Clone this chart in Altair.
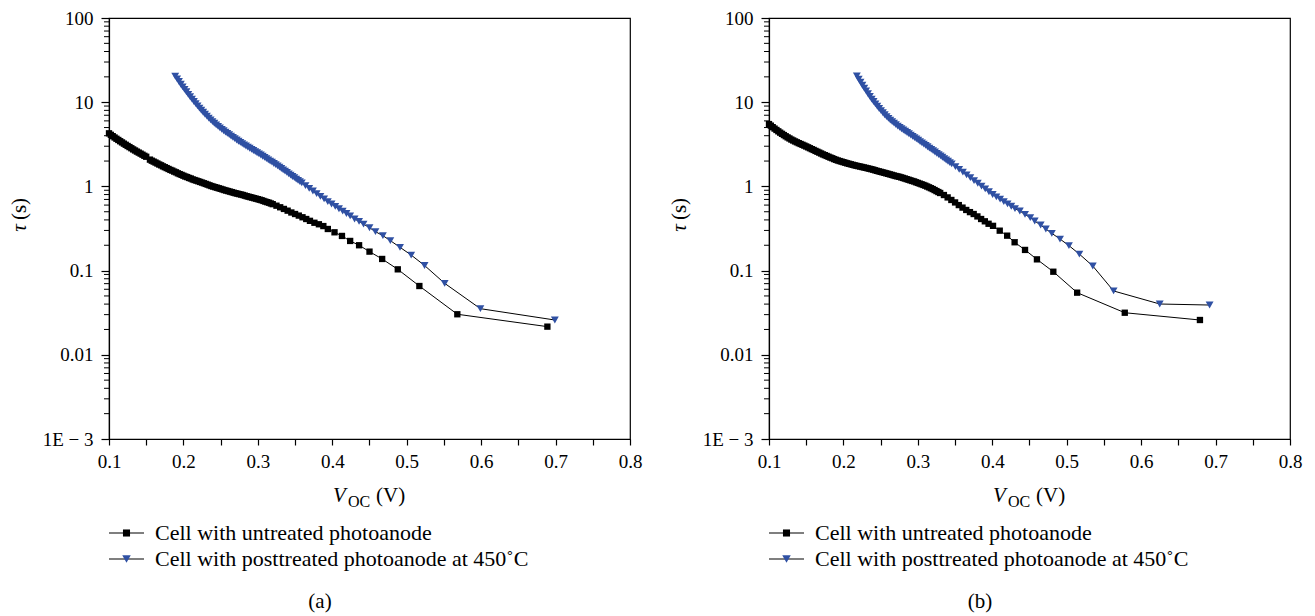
import altair as alt
import pandas as pd

SERIES = ["Cell with untreated photoanode", "Cell with posttreated photoanode at 450˚C"]
COLORS = ["#000000", "#2f50a3"]
SHAPES = ["square", "triangle-down"]
SIZES = [40, 62]
CAPTIONS = ["(a)", "(b)"]

# ---- panel (a) ----
a_untreated_v = [0.1000, 0.1025, 0.1050, 0.1075, 0.1100, 0.1125, 0.1150, 0.1175, 0.1200, 0.1225,
                 0.1250, 0.1275, 0.1300, 0.1325, 0.1350, 0.1375, 0.1400, 0.1425, 0.1450, 0.1475,
                 0.1500, 0.1550, 0.1575, 0.1600, 0.1625, 0.1650, 0.1675, 0.1700, 0.1725, 0.1750,
                 0.1775, 0.1800, 0.1825, 0.1850, 0.1875, 0.1900, 0.1925, 0.1950, 0.1975, 0.2000,
                 0.2025, 0.2050, 0.2075, 0.2100, 0.2125, 0.2150, 0.2175, 0.2200, 0.2225, 0.2250,
                 0.2275, 0.2300, 0.2325, 0.2350, 0.2375, 0.2400, 0.2425, 0.2450, 0.2475, 0.2500,
                 0.2525, 0.2550, 0.2575, 0.2600, 0.2625, 0.2650, 0.2675, 0.2700, 0.2725, 0.2750,
                 0.2775, 0.2800, 0.2825, 0.2850, 0.2875, 0.2900, 0.2925, 0.2950, 0.2975, 0.3000,
                 0.3025, 0.3050, 0.3075, 0.3100, 0.3125, 0.3150, 0.3175, 0.3200, 0.3250, 0.3300,
                 0.3350, 0.3400, 0.3450, 0.3500, 0.3550, 0.3600, 0.3650, 0.3700, 0.3760, 0.3820,
                 0.3880, 0.3940, 0.4030, 0.4130, 0.4240, 0.4360, 0.4500, 0.4670, 0.4880, 0.5170,
                 0.5680, 0.6890]
a_untreated_tau = [4.27, 4.10, 3.95, 3.81, 3.68, 3.56, 3.44, 3.33, 3.22, 3.12,
                   3.02, 2.93, 2.84, 2.75, 2.67, 2.59, 2.52, 2.45, 2.38, 2.31,
                   2.25, 2.08, 2.02, 1.97, 1.92, 1.87, 1.82, 1.78, 1.73, 1.69,
                   1.65, 1.61, 1.57, 1.54, 1.50, 1.47, 1.43, 1.40, 1.37, 1.34,
                   1.31, 1.29, 1.26, 1.24, 1.21, 1.19, 1.17, 1.15, 1.13, 1.11,
                   1.09, 1.07, 1.05, 1.03, 1.01, 0.995, 0.98, 0.965, 0.95, 0.935,
                   0.92, 0.905, 0.892, 0.88, 0.867, 0.855, 0.842, 0.83, 0.82, 0.81,
                   0.80, 0.79, 0.777, 0.765, 0.755, 0.745, 0.735, 0.725, 0.715, 0.705,
                   0.695, 0.685, 0.672, 0.66, 0.65, 0.64, 0.627, 0.615, 0.59, 0.565,
                   0.54, 0.515, 0.49, 0.47, 0.45, 0.43, 0.41, 0.39, 0.37, 0.355,
                   0.338, 0.312, 0.285, 0.258, 0.225, 0.200, 0.168, 0.1375, 0.1035, 0.0656,
                   0.0303, 0.0216]

a_treated_v = [0.1890, 0.1915, 0.1940, 0.1965, 0.1990, 0.2015, 0.2040, 0.2065, 0.2090, 0.2115,
               0.2140, 0.2165, 0.2190, 0.2215, 0.2240, 0.2265, 0.2290, 0.2315, 0.2340, 0.2365,
               0.2390, 0.2415, 0.2440, 0.2465, 0.2490, 0.2515, 0.2540, 0.2565, 0.2590, 0.2615,
               0.2640, 0.2665, 0.2690, 0.2715, 0.2740, 0.2765, 0.2790, 0.2815, 0.2840, 0.2865,
               0.2890, 0.2915, 0.2940, 0.2965, 0.2990, 0.3015, 0.3040, 0.3065, 0.3090, 0.3115,
               0.3140, 0.3165, 0.3190, 0.3215, 0.3240, 0.3265, 0.3290, 0.3315, 0.3340, 0.3365,
               0.3390, 0.3415, 0.3440, 0.3465, 0.3490, 0.3515, 0.3540, 0.3565, 0.3590, 0.3640,
               0.3690, 0.3740, 0.3790, 0.3840, 0.3890, 0.3940, 0.3990, 0.4040, 0.4090, 0.4140,
               0.4190, 0.4240, 0.4300, 0.4360, 0.4420, 0.4500, 0.4580, 0.4680, 0.4780, 0.4910,
               0.5060, 0.5240, 0.5510, 0.5990, 0.6990]
a_treated_tau = [20.4, 18.9, 17.6, 16.35, 15.2, 14.2, 13.3, 12.4, 11.6, 10.9,
                 10.2, 9.6, 9.03, 8.5, 8.03, 7.6, 7.19, 6.82, 6.48, 6.17,
                 5.88, 5.62, 5.38, 5.16, 4.95, 4.76, 4.58, 4.42, 4.26, 4.11,
                 3.96, 3.82, 3.69, 3.56, 3.44, 3.33, 3.22, 3.12, 3.02, 2.93,
                 2.84, 2.75, 2.67, 2.59, 2.51, 2.43, 2.36, 2.28, 2.21, 2.14,
                 2.07, 2.00, 1.94, 1.87, 1.81, 1.75, 1.69, 1.63, 1.57, 1.52,
                 1.47, 1.41, 1.36, 1.31, 1.27, 1.22, 1.18, 1.14, 1.10, 1.02,
                 0.948, 0.882, 0.820, 0.763, 0.710, 0.661, 0.618, 0.579, 0.543, 0.509,
                 0.477, 0.446, 0.410, 0.385, 0.357, 0.323, 0.290, 0.260, 0.227, 0.189,
                 0.153, 0.115, 0.0706, 0.0353, 0.0259]

# ---- panel (b) ----
b_untreated_v = [0.1000, 0.1025, 0.1050, 0.1075, 0.1100, 0.1125, 0.1150, 0.1175, 0.1200, 0.1225,
                 0.1250, 0.1275, 0.1300, 0.1325, 0.1350, 0.1375, 0.1400, 0.1425, 0.1450, 0.1475,
                 0.1500, 0.1525, 0.1550, 0.1575, 0.1600, 0.1625, 0.1650, 0.1675, 0.1700, 0.1725,
                 0.1750, 0.1775, 0.1800, 0.1825, 0.1850, 0.1875, 0.1900, 0.1925, 0.1950, 0.1975,
                 0.2000, 0.2025, 0.2050, 0.2075, 0.2100, 0.2125, 0.2150, 0.2175, 0.2200, 0.2225,
                 0.2250, 0.2275, 0.2300, 0.2325, 0.2350, 0.2375, 0.2400, 0.2425, 0.2450, 0.2475,
                 0.2500, 0.2525, 0.2550, 0.2575, 0.2600, 0.2625, 0.2650, 0.2675, 0.2700, 0.2725,
                 0.2750, 0.2775, 0.2800, 0.2825, 0.2850, 0.2875, 0.2900, 0.2925, 0.2950, 0.2975,
                 0.3000, 0.3025, 0.3050, 0.3075, 0.3100, 0.3125, 0.3150, 0.3175, 0.3200, 0.3225,
                 0.3250, 0.3275, 0.3300, 0.3350, 0.3400, 0.3450, 0.3500, 0.3550, 0.3600, 0.3650,
                 0.3700, 0.3750, 0.3800, 0.3850, 0.3900, 0.3950, 0.4010, 0.4100, 0.4200, 0.4300,
                 0.4440, 0.4600, 0.4820, 0.5140, 0.5780, 0.6790]
b_untreated_tau = [5.5, 5.27, 5.05, 4.86, 4.68, 4.51, 4.35, 4.21, 4.07, 3.94,
                   3.82, 3.71, 3.60, 3.51, 3.42, 3.34, 3.26, 3.19, 3.12, 3.05,
                   2.98, 2.91, 2.84, 2.77, 2.71, 2.64, 2.58, 2.52, 2.46, 2.40,
                   2.35, 2.30, 2.25, 2.20, 2.16, 2.11, 2.07, 2.03, 2.00, 1.97,
                   1.94, 1.91, 1.88, 1.855, 1.83, 1.805, 1.78, 1.76, 1.74, 1.72,
                   1.70, 1.68, 1.66, 1.64, 1.62, 1.60, 1.58, 1.555, 1.53, 1.51,
                   1.49, 1.47, 1.45, 1.43, 1.41, 1.39, 1.37, 1.35, 1.33, 1.315,
                   1.30, 1.28, 1.26, 1.24, 1.22, 1.20, 1.18, 1.16, 1.145, 1.12,
                   1.10, 1.08, 1.06, 1.04, 1.02, 0.997, 0.975, 0.952, 0.93, 0.905,
                   0.88, 0.857, 0.835, 0.79, 0.74, 0.69, 0.645, 0.60, 0.56, 0.525,
                   0.495, 0.47, 0.44, 0.41, 0.385, 0.36, 0.340, 0.298, 0.26, 0.217,
                   0.176, 0.136, 0.097, 0.0547, 0.0316, 0.0259]

b_treated_v = [0.2180, 0.2205, 0.2230, 0.2255, 0.2280, 0.2305, 0.2330, 0.2355, 0.2380, 0.2405,
               0.2430, 0.2455, 0.2480, 0.2505, 0.2530, 0.2555, 0.2580, 0.2605, 0.2630, 0.2655,
               0.2680, 0.2705, 0.2730, 0.2755, 0.2780, 0.2805, 0.2830, 0.2855, 0.2880, 0.2905,
               0.2930, 0.2955, 0.2980, 0.3005, 0.3030, 0.3055, 0.3080, 0.3105, 0.3130, 0.3155,
               0.3180, 0.3205, 0.3230, 0.3255, 0.3280, 0.3305, 0.3330, 0.3355, 0.3380, 0.3405,
               0.3430, 0.3455, 0.3505, 0.3555, 0.3605, 0.3655, 0.3705, 0.3755, 0.3805, 0.3855,
               0.3905, 0.3955, 0.4005, 0.4055, 0.4105, 0.4155, 0.4205, 0.4255, 0.4305, 0.4370,
               0.4440, 0.4510, 0.4570, 0.4650, 0.4720, 0.4800, 0.4910, 0.5030, 0.5170, 0.5350,
               0.5630, 0.6250, 0.6920]
b_treated_tau = [20.5, 18.8, 17.3, 15.9, 14.7, 13.6, 12.6, 11.7, 10.9, 10.2,
                 9.55, 8.96, 8.42, 7.93, 7.49, 7.10, 6.75, 6.42, 6.13, 5.87,
                 5.64, 5.41, 5.21, 5.02, 4.84, 4.68, 4.52, 4.37, 4.22, 4.07,
                 3.93, 3.80, 3.66, 3.54, 3.41, 3.29, 3.18, 3.07, 2.96, 2.85,
                 2.75, 2.66, 2.56, 2.47, 2.39, 2.30, 2.22, 2.14, 2.06, 1.99,
                 1.92, 1.85, 1.72, 1.59, 1.48, 1.37, 1.27, 1.17, 1.09, 1.01,
                 0.933, 0.864, 0.802, 0.752, 0.705, 0.661, 0.619, 0.581, 0.545, 0.51,
                 0.466, 0.425, 0.388, 0.348, 0.312, 0.277, 0.237, 0.198, 0.157, 0.1135,
                 0.0573, 0.0401, 0.039]

X_TICKS = [0.1, 0.15, 0.2, 0.25, 0.3, 0.35, 0.4, 0.45, 0.5, 0.55, 0.6, 0.65, 0.7, 0.75, 0.8]
Y_MAJOR = [100, 10, 1, 0.1, 0.01, 0.001]
Y_MINOR = [0.002, 0.003, 0.004, 0.005, 0.006, 0.007, 0.008, 0.009,
           0.02, 0.03, 0.04, 0.05, 0.06, 0.07, 0.08, 0.09,
           0.2, 0.3, 0.4, 0.5, 0.6, 0.7, 0.8, 0.9,
           2, 3, 4, 5, 6, 7, 8, 9,
           20, 30, 40, 50, 60, 70, 80, 90]

FONT = "Liberation Serif"
W, H = 521, 421
TICK_FS = 19
TEXT_FS = 21
LEG_FS = 22


def frame(uv, ut, tv, tt):
    return pd.DataFrame({
        "v": uv + tv,
        "tau": ut + tt,
        "series": [SERIES[0]] * len(uv) + [SERIES[1]] * len(tv),
    })


def panel(df, caption):
    x = alt.X("v:Q", scale=alt.Scale(domain=[0.1, 0.8], nice=False),
              axis=alt.Axis(values=X_TICKS, title=None, grid=False,
                            labelExpr="abs(datum.value*10 - round(datum.value*10)) < 0.01 ? format(datum.value, '.1f') : ''",
                            tickSize=6, labelPadding=7, labelFont=FONT, labelFontSize=TICK_FS,
                            labelColor="black", domainColor="black", tickColor="black",
                            labelFlush=False, labelOverlap=False))
    y = alt.Y("tau:Q", scale=alt.Scale(type="log", domain=[0.001, 100], nice=False),
              axis=alt.Axis(values=Y_MAJOR, title=None, grid=False,
                            labelExpr="datum.value < 0.005 ? '1E − 3' : (datum.value >= 1 ? format(datum.value, 'd') : format(datum.value, '~g'))",
                            tickSize=8, labelPadding=8, labelFont=FONT, labelFontSize=TICK_FS,
                            labelColor="black", domainColor="black", tickColor="black",
                            labelOverlap=False))
    base = alt.Chart(df)
    lines = base.mark_line(color="black", strokeWidth=1).encode(x=x, y=y, detail="series:N")
    pts = base.mark_point(filled=True, opacity=1, strokeWidth=0).encode(
        x=x, y=y,
        shape=alt.Shape("series:N", scale=alt.Scale(domain=SERIES, range=SHAPES), legend=None),
        color=alt.Color("series:N", scale=alt.Scale(domain=SERIES, range=COLORS), legend=None),
        size=alt.Size("series:N", scale=alt.Scale(domain=SERIES, range=SIZES), legend=None),
    )
    minor = alt.Chart(pd.DataFrame({"m": Y_MINOR})).mark_rule(color="black", strokeWidth=1).encode(
        y=alt.Y("m:Q", scale=alt.Scale(type="log", domain=[0.001, 100], nice=False)),
        x=alt.value(-5), x2=alt.value(0))

    one = pd.DataFrame({"k": [0]})
    ytitle1 = alt.Chart(one).mark_text(font=FONT, fontSize=TEXT_FS, fontStyle="italic", angle=270,
                                       color="black").encode(
        x=alt.value(-89), y=alt.value(210), text=alt.value("τ"))
    ytitle2 = alt.Chart(one).mark_text(font=FONT, fontSize=TEXT_FS, angle=270, color="black").encode(
        x=alt.value(-89), y=alt.value(191), text=alt.value("(s)"))
    xt1 = alt.Chart(one).mark_text(font=FONT, fontSize=TEXT_FS, fontStyle="italic", align="left",
                                   color="black").encode(
        x=alt.value(224), y=alt.value(478), text=alt.value("V"))
    xt2 = alt.Chart(one).mark_text(font=FONT, fontSize=16, align="left", color="black").encode(
        x=alt.value(239), y=alt.value(484), text=alt.value("OC"))
    xt3 = alt.Chart(one).mark_text(font=FONT, fontSize=TEXT_FS, align="left", color="black").encode(
        x=alt.value(267), y=alt.value(478), text=alt.value("(V)"))
    cap = alt.Chart(one).mark_text(font=FONT, fontSize=TEXT_FS, color="black").encode(
        x=alt.value(211), y=alt.value(584), text=alt.value(caption))

    leg = []
    for i, name in enumerate(SERIES):
        ly = 515 + 26 * i
        d = pd.DataFrame({"label": [name]})
        leg.append(alt.Chart(d).mark_rule(color="black", strokeWidth=1.2).encode(
            x=alt.value(0), x2=alt.value(35), y=alt.value(ly)))
        leg.append(alt.Chart(d).mark_point(filled=True, opacity=1, strokeWidth=0, shape=SHAPES[i],
                                           color=COLORS[i], size=SIZES[i] + 10).encode(
            x=alt.value(17.5), y=alt.value(ly)))
        leg.append(alt.Chart(d).mark_text(font=FONT, fontSize=LEG_FS, align="left", color="black").encode(
            x=alt.value(46), y=alt.value(ly), text="label:N"))

    return alt.layer(lines, pts, minor, ytitle1, ytitle2, xt1, xt2, xt3, cap, *leg).properties(
        width=W, height=H)


pa = panel(frame(a_untreated_v, a_untreated_tau, a_treated_v, a_treated_tau), CAPTIONS[0])
pb = panel(frame(b_untreated_v, b_untreated_tau, b_treated_v, b_treated_tau), CAPTIONS[1])

chart = alt.hconcat(pa, pb, spacing=139, bounds="flush").properties(padding=0).configure_view(
    stroke="black", strokeWidth=1.2).configure_axis(domainWidth=1.2, tickWidth=1.2)

chart.save("out.html", embed_options={"renderer": "svg", "actions": False})
